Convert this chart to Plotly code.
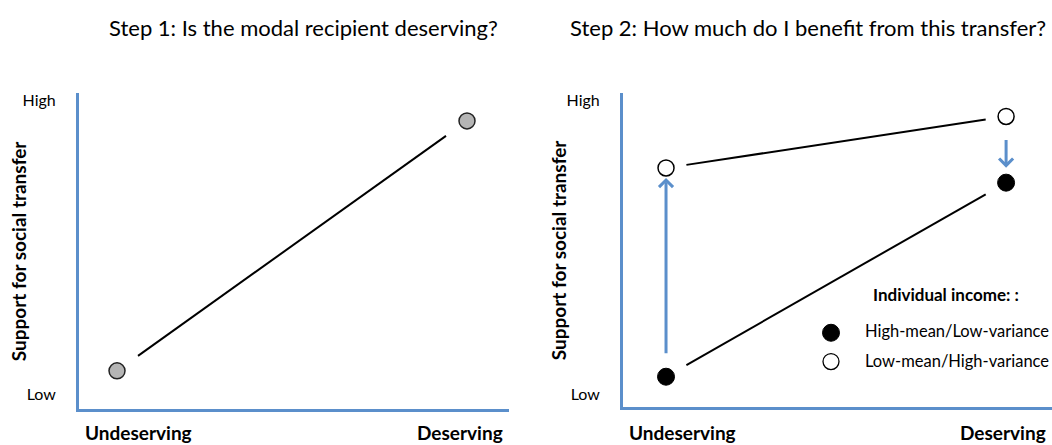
import plotly.graph_objects as go

W, H = 1052, 445

# ---- data ----
categories = ["Undeserving", "Deserving"]
cat_pos = [0, 1]
support_ticks = ["Low", "High"]
support_tickvals = [0, 1]

# Step 1: modal recipient
step1_support = [0.08, 0.93]

# Step 2: individual income groups
high_mean_support = [0.06, 0.72]   # black
low_mean_support = [0.77, 0.945]   # white

titles = ["Step 1: Is the modal recipient deserving?",
          "Step 2: How much do I benefit from this transfer?"]
ytitle = "Support for social transfer"
legend_title = "Individual income: :"
legend_names = ["High-mean/Low-variance", "Low-mean/High-variance"]

AXIS_BLUE = "#5b8fcb"
FONT = "Lato"
GAP = 0.06

fig = go.Figure()

def seg(xs, ys, t0=GAP, t1=1 - GAP):
    x0, x1 = xs
    y0, y1 = ys
    return ([x0 + (x1 - x0) * t0, x0 + (x1 - x0) * t1],
            [y0 + (y1 - y0) * t0, y0 + (y1 - y0) * t1])

# Step 1 panel
sx, sy = seg(cat_pos, step1_support)
fig.add_trace(go.Scatter(x=sx, y=sy, mode="lines", line=dict(color="black", width=2),
                         xaxis="x", yaxis="y", showlegend=False, hoverinfo="skip"))
fig.add_trace(go.Scatter(x=cat_pos, y=step1_support, mode="markers",
                         marker=dict(size=16, color="#b5b5b5", line=dict(color="#222", width=1.5)),
                         xaxis="x", yaxis="y", showlegend=False))

# Step 2 panel
sx, sy = seg(cat_pos, low_mean_support)
fig.add_trace(go.Scatter(x=sx, y=sy, mode="lines", line=dict(color="black", width=2),
                         xaxis="x2", yaxis="y2", showlegend=False, hoverinfo="skip"))
sx, sy = seg(cat_pos, high_mean_support)
fig.add_trace(go.Scatter(x=sx, y=sy, mode="lines", line=dict(color="black", width=2),
                         xaxis="x2", yaxis="y2", showlegend=False, hoverinfo="skip"))
fig.add_trace(go.Scatter(x=cat_pos, y=low_mean_support, mode="markers", name=legend_names[1],
                         marker=dict(size=16, color="white", line=dict(color="black", width=1.5)),
                         xaxis="x2", yaxis="y2", showlegend=False))
fig.add_trace(go.Scatter(x=cat_pos, y=high_mean_support, mode="markers", name=legend_names[0],
                         marker=dict(size=17, color="black", line=dict(color="black", width=1)),
                         xaxis="x2", yaxis="y2", showlegend=False))

def px(x):
    return x / W

def py(y):
    return 1 - y / H

axis_common = dict(showgrid=False, zeroline=False, showline=True, linecolor=AXIS_BLUE,
                   linewidth=3, fixedrange=True)

fig.update_layout(
    width=W, height=H, margin=dict(l=0, r=0, t=0, b=0),
    paper_bgcolor="white", plot_bgcolor="white", showlegend=False,
    font=dict(family=FONT, color="black"),
    xaxis=dict(domain=[px(79), px(509)], range=[-0.1086, 1.12], showticklabels=False,
               ticks="", anchor="y", **axis_common),
    yaxis=dict(domain=[py(409), py(91)], range=[-0.0507, 1.0236], tickvals=support_tickvals,
               ticktext=support_ticks, ticks="", ticklabelstandoff=17, anchor="x",
               tickfont=dict(size=16, family=FONT), **axis_common),
    xaxis2=dict(domain=[px(623), 1.0], range=[-0.1265, 1.135], showticklabels=False,
                ticks="", anchor="y2", **axis_common),
    yaxis2=dict(domain=[py(407), py(91)], range=[-0.0439, 1.0236], tickvals=support_tickvals,
                ticktext=support_ticks, ticks="", ticklabelstandoff=17, anchor="x2",
                tickfont=dict(size=16, family=FONT), **axis_common),
)

ann = []
# titles
ann.append(dict(text=titles[0], x=px(303), y=py(25), xref="paper", yref="paper",
                showarrow=False, font=dict(size=22), xanchor="center", yanchor="middle"))
ann.append(dict(text=titles[1], x=px(808), y=py(25), xref="paper", yref="paper",
                showarrow=False, font=dict(size=22), xanchor="center", yanchor="middle"))
# axis titles and category labels
for xa, ya, tx in [("x", "y", 18), ("x2", "y2", 558)]:
    ann.append(dict(text="<b>" + ytitle + "</b>", x=px(tx), y=0.5, xref="paper",
                    yref=ya + " domain", textangle=-90, showarrow=False,
                    font=dict(size=19), xanchor="center", yanchor="middle"))
    ann.append(dict(text="<b>" + categories[0] + "</b>", x=0, y=py(432), xref=xa + " domain",
                    yref="paper", xanchor="left", yanchor="middle", xshift=4,
                    showarrow=False, font=dict(size=19)))
    ann.append(dict(text="<b>" + categories[1] + "</b>", x=1, y=py(432), xref=xa + " domain",
                    yref="paper", xanchor="right", yanchor="middle", xshift=-4,
                    showarrow=False, font=dict(size=19)))

# arrows (from high-mean to low-mean at undeserving; reverse at deserving)
ann.append(dict(x=cat_pos[0], y=low_mean_support[0], ax=cat_pos[0], ay=high_mean_support[0],
                xref="x2", yref="y2", axref="x2", ayref="y2", showarrow=True, text="",
                arrowhead=4, arrowsize=0.9, arrowwidth=3, arrowcolor=AXIS_BLUE,
                standoff=10, startstandoff=22))
ann.append(dict(x=cat_pos[1], y=high_mean_support[1], ax=cat_pos[1], ay=low_mean_support[1],
                xref="x2", yref="y2", axref="x2", ayref="y2", showarrow=True, text="",
                arrowhead=4, arrowsize=0.9, arrowwidth=3, arrowcolor=AXIS_BLUE,
                standoff=15, startstandoff=22))

# legend
ann.append(dict(text="<b>" + legend_title + "</b>", x=px(946), y=py(293), xref="paper",
                yref="paper", showarrow=False, font=dict(size=17), xanchor="center",
                yanchor="middle"))
ann.append(dict(text=legend_names[0], x=px(863), y=py(330), xref="paper", yref="paper",
                showarrow=False, font=dict(size=16.5), xanchor="left", yanchor="middle"))
ann.append(dict(text=legend_names[1], x=px(863), y=py(360), xref="paper", yref="paper",
                showarrow=False, font=dict(size=16.5), xanchor="left", yanchor="middle"))

shapes = [
    dict(type="circle", xref="paper", yref="paper", xsizemode="pixel", ysizemode="pixel",
         xanchor=px(831), yanchor=py(332), x0=-8.5, x1=8.5, y0=-8.5, y1=8.5,
         fillcolor="black", line=dict(color="black", width=1)),
    dict(type="circle", xref="paper", yref="paper", xsizemode="pixel", ysizemode="pixel",
         xanchor=px(831), yanchor=py(361), x0=-8, x1=8, y0=-8, y1=8,
         fillcolor="white", line=dict(color="black", width=1.3)),
]

fig.update_layout(annotations=ann, shapes=shapes)
fig.write_html("out.html", config={"displayModeBar": False},
               post_script="document.body.style.margin='0';document.body.style.padding='0';")
